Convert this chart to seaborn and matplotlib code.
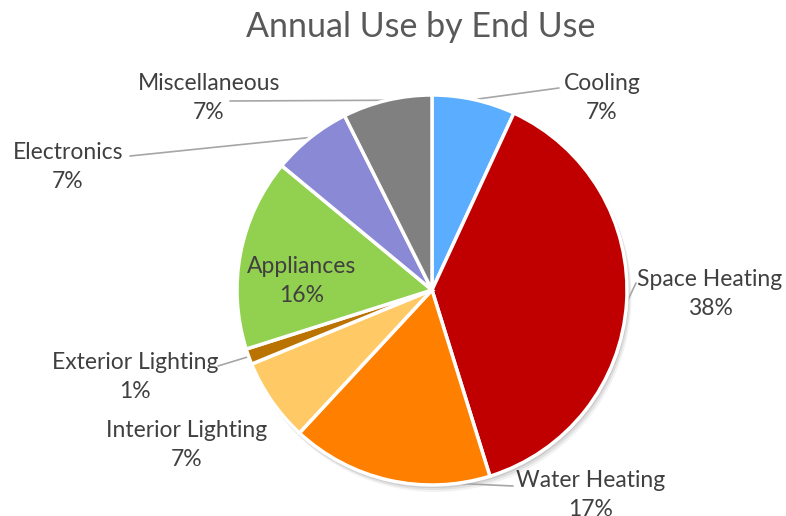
import numpy as np
import matplotlib
matplotlib.use("Agg")
import matplotlib.pyplot as plt
from matplotlib.patches import Circle
import seaborn as sns

# ── Data ───────────────────────────────────────────────────────────────────────
categories = ["Cooling", "Space Heating", "Water Heating", "Interior Lighting",
              "Exterior Lighting", "Appliances", "Electronics", "Miscellaneous"]
shares = [6.9, 38.3, 16.7, 6.9, 1.3, 15.9, 6.6, 7.4]
colors = ["#5BADFF", "#C00000", "#FF8000", "#FFC966",
          "#BA7300", "#92D050", "#8989D6", "#808080"]

# ── Layout (pixels, origin top-left) ───────────────────────────────────────────
W, H = 786, 516
CX, CY, R = 432, 290, 195
label_pos = {
    "Cooling": (602, 98),
    "Space Heating": (710, 294),
    "Water Heating": (591, 495),
    "Interior Lighting": (187, 445),
    "Exterior Lighting": (135, 377),
    "Appliances": (302, 281),
    "Electronics": (68, 167),
    "Miscellaneous": (209, 98),
}
leader_anchor = {
    "Cooling": (559, 88),
    "Space Heating": (636, 283),
    "Water Heating": (513, 486),
    "Exterior Lighting": (218, 366),
    "Electronics": (130, 156),
    "Miscellaneous": (230, 101),
}

sns.set_theme(style="white")
plt.rcParams["font.family"] = ["Lato", "DejaVu Sans"]
TXT = "#404040"

fig = plt.figure(figsize=(W / 100, H / 100), dpi=100)
ax = fig.add_axes([0, 0, 1, 1])

# soft shadow under the pie
for off, a in [(6, 0.05), (4, 0.07), (2, 0.09)]:
    ax.add_patch(Circle((CX + off * 0.6, H - CY - off), R + 1, color="black",
                        alpha=a, lw=0, zorder=0))

wedges, _ = ax.pie(shares, colors=colors, startangle=90, counterclock=False,
                   center=(CX, H - CY), radius=R,
                   wedgeprops=dict(edgecolor="white", linewidth=2.5))
for w in wedges:
    w.set_zorder(2)

total = sum(shares)
cum = np.cumsum([0] + shares[:-1])
for i, name in enumerate(categories):
    pct = round(shares[i] / total * 100)
    x, y = label_pos[name]
    ax.text(x, H - y, f"{name}\n{pct}%", ha="center", va="center",
            fontsize=16.5, color=TXT, linespacing=1.45, zorder=4)
    if name in leader_anchor:
        mid = np.deg2rad((cum[i] + shares[i] / 2) / total * 360)
        ex, ey = CX + R * np.sin(mid), CY - R * np.cos(mid)
        lx, ly = leader_anchor[name]
        ax.plot([lx, ex], [H - ly, H - ey], color="#A6A6A6", lw=1.2, zorder=1)

ax.text(W / 2 + 28, H - 27, "Annual Use by End Use", ha="center", va="center",
        fontsize=24.5, color="#595959")

ax.set_xlim(0, W)
ax.set_ylim(0, H)
ax.set_aspect("equal")
ax.axis("off")

plt.savefig("out.png", dpi=100)
